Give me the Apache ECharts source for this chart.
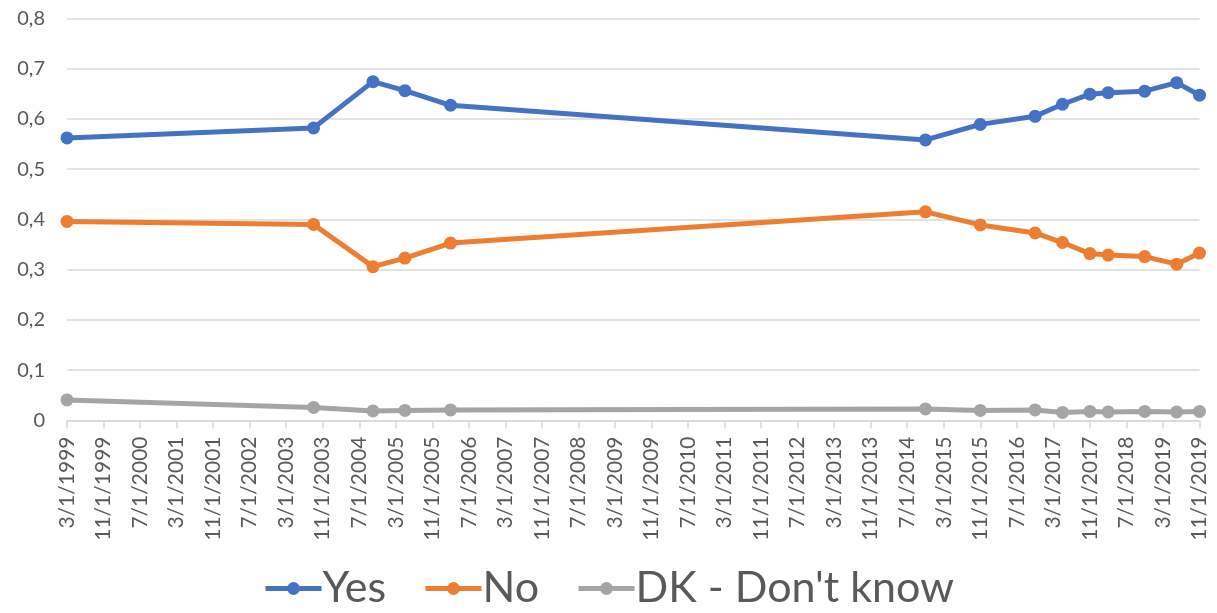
<!DOCTYPE html>
<html>
<head>
<meta charset="utf-8">
<script src="https://cdn.jsdelivr.net/npm/echarts@6/dist/echarts.min.js"></script>
<style>
html,body{margin:0;padding:0;background:#fff;}
#chart{width:1217px;height:613px;}
</style>
</head>
<body>
<div id="chart"></div>
<script>
// Survey dates (year-month, first of month)
var dates = ["1999-03","2003-09","2004-10","2005-05","2006-03","2014-11","2015-11","2016-11","2017-05","2017-11","2018-03","2018-11","2019-06","2019-11"];
var yesValues = [0.562,0.582,0.674,0.656,0.627,0.558,0.589,0.605,0.629,0.649,0.652,0.655,0.672,0.647];
var noValues  = [0.396,0.390,0.306,0.323,0.353,0.415,0.389,0.373,0.354,0.332,0.329,0.326,0.311,0.333];
var dkValues  = [0.041,0.026,0.019,0.020,0.021,0.023,0.020,0.021,0.016,0.018,0.017,0.018,0.017,0.018];
var seriesNames = ["Yes","No","DK - Don't know"];
var yTicks = ["0","0,1","0,2","0,3","0,4","0,5","0,6","0,7","0,8"];

var startYear = 1999, startMonth = 3; // axis origin 3/1/1999
function monthIndex(s){
  var p = s.split("-");
  return (parseInt(p[0],10)-startYear)*12 + (parseInt(p[1],10)-startMonth);
}
function monthLabel(m){
  var t = startMonth - 1 + m;
  var mo = (t % 12) + 1;
  var yr = startYear + Math.floor(t / 12);
  return mo + "/1/" + yr;
}
function pairs(vals){
  return dates.map(function(d,i){ return [monthIndex(d), vals[i]]; });
}

var FONT = "Lato";
var chart = echarts.init(document.getElementById('chart'));
var lineSeries = function(name, vals, color){
  return {
    name: name, type: 'line', data: pairs(vals),
    symbol: 'circle', symbolSize: 13,
    lineStyle: {width: 5, color: color},
    itemStyle: {color: color},
    emphasis: {disabled: true}
  };
};
chart.setOption({
  animation: false,
  textStyle: {fontFamily: FONT},
  grid: {left: 67, right: 17.5, top: 18.3, bottom: 192.5, containLabel: false},
  xAxis: {
    type: 'value', min: 0, max: 248, interval: 8,
    axisLine: {show: true, lineStyle: {color: '#D9D9D9', width: 1.5}},
    axisTick: {show: true, length: 8, lineStyle: {color: '#D9D9D9', width: 1.5}},
    splitLine: {show: false},
    axisLabel: {
      rotate: 90, margin: 16, color: '#595959', fontSize: 21, fontFamily: FONT,
      showMinLabel: true, showMaxLabel: true,
      formatter: function(v){ return monthLabel(v); }
    }
  },
  yAxis: {
    type: 'value', min: 0, max: 0.8, interval: 0.1,
    axisLine: {show: false}, axisTick: {show: false},
    splitLine: {lineStyle: {color: '#D9D9D9', width: 1.5}},
    axisLabel: {
      margin: 22, color: '#595959', fontSize: 20, fontFamily: FONT,
      formatter: function(v){ return yTicks[Math.round(v*10)]; }
    }
  },
  legend: {
    bottom: -2, left: 'center', itemWidth: 56, itemHeight: 16, itemGap: 37,
    lineStyle: {width: 5},
    textStyle: {fontSize: 43, color: '#595959', fontFamily: FONT, padding: [0,0,0,-4]},
    data: seriesNames
  },
  series: [
    lineSeries(seriesNames[0], yesValues, '#4472C4'),
    lineSeries(seriesNames[1], noValues, '#ED7D31'),
    lineSeries(seriesNames[2], dkValues, '#A5A5A5')
  ]
});
</script>
</body>
</html>
